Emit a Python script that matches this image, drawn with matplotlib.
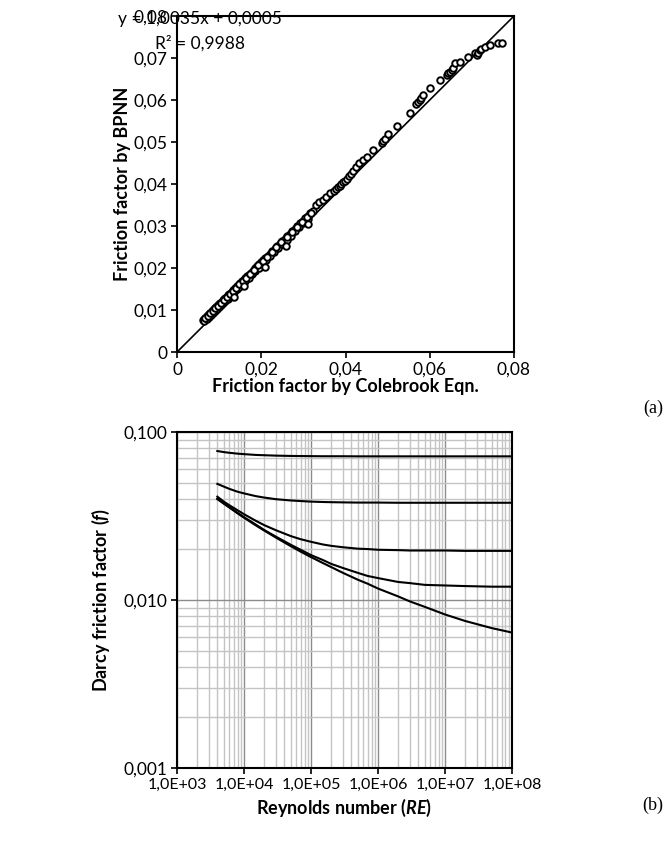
#!/usr/bin/env python3
import matplotlib
matplotlib.use("Agg")
import matplotlib.pyplot as plt

plt.rcParams['font.family'] = ['Lato', 'DejaVu Sans']
plt.rcParams['mathtext.fontset'] = 'custom'
plt.rcParams['mathtext.rm'] = 'Lato'
plt.rcParams['mathtext.bfit'] = 'Lato:italic:bold'

# (a) friction factor: Colebrook vs BPNN
colebrook = [0.0062, 0.0064, 0.0066, 0.0068, 0.0070, 0.0072, 0.0074, 0.0076, 0.0078, 0.0080,
             0.0082, 0.0084, 0.0086, 0.0088, 0.0090, 0.0092, 0.0094, 0.0096, 0.0098, 0.0100,
             0.0103, 0.0106, 0.0109, 0.0112, 0.0115, 0.0118, 0.0121, 0.0124, 0.0127, 0.0130,
             0.0134, 0.0138, 0.0142, 0.0146, 0.0150, 0.0154, 0.0158, 0.0162, 0.0166, 0.0170,
             0.0175, 0.0180, 0.0185, 0.0190, 0.0195, 0.0200, 0.0205, 0.0210, 0.0215, 0.0220,
             0.0226, 0.0232, 0.0238, 0.0244, 0.0250, 0.0256, 0.0262, 0.0268, 0.0274, 0.0280,
             0.0286, 0.0292, 0.0298, 0.0304, 0.0310, 0.0316, 0.0322,
             0.0065, 0.0070, 0.0075, 0.0080, 0.0085, 0.0090, 0.0095, 0.0100, 0.0105, 0.0110,
             0.0115, 0.0120, 0.0125, 0.0130, 0.0136, 0.0142, 0.0148, 0.0155, 0.0162, 0.0170,
             0.0178, 0.0186, 0.0194, 0.0203, 0.0212, 0.0221, 0.0230, 0.0240, 0.0250, 0.0260,
             0.0270, 0.0280, 0.0290, 0.0300, 0.0310,
             0.0067, 0.0073, 0.0079, 0.0085, 0.0091, 0.0097, 0.0104, 0.0111, 0.0118, 0.0126,
             0.0133, 0.0140, 0.0148, 0.0156, 0.0164, 0.0173, 0.0183, 0.0193, 0.0203, 0.0214,
             0.0225, 0.0236, 0.0248, 0.0260, 0.0272, 0.0284, 0.0296, 0.0308, 0.0318,
             0.0135, 0.0160, 0.0209, 0.0258, 0.0310,
             0.0330, 0.0338, 0.0346, 0.0354, 0.0362,
             0.0372, 0.0378, 0.0382, 0.0386, 0.0390, 0.0394, 0.0398, 0.0403, 0.0408, 0.0413, 0.0418,
             0.0425, 0.0433, 0.0441, 0.0450,
             0.0465, 0.0486, 0.0490, 0.0494, 0.0500, 0.0522, 0.0553,
             0.0568, 0.0572, 0.0576, 0.0580, 0.0584, 0.0600, 0.0624,
             0.0640, 0.0644, 0.0648, 0.0652, 0.0656, 0.0660, 0.0671, 0.0690, 0.0707,
             0.0712, 0.0715, 0.0719, 0.0722, 0.0731, 0.0743, 0.0762, 0.0771]
bpnn = [0.0076, 0.0078, 0.0080, 0.0082, 0.0084, 0.0086, 0.0088, 0.0090, 0.0092, 0.0094,
        0.0096, 0.0098, 0.0100, 0.0102, 0.0104, 0.0106, 0.0108, 0.0110, 0.0112, 0.0114,
        0.0117, 0.0120, 0.0123, 0.0126, 0.0129, 0.0132, 0.0135, 0.0138, 0.0141, 0.0144,
        0.0148, 0.0152, 0.0156, 0.0160, 0.0164, 0.0168, 0.0172, 0.0176, 0.0180, 0.0184,
        0.0189, 0.0194, 0.0199, 0.0204, 0.0209, 0.0214, 0.0219, 0.0224, 0.0229, 0.0234,
        0.0240, 0.0246, 0.0252, 0.0258, 0.0264, 0.0270, 0.0276, 0.0282, 0.0288, 0.0294,
        0.0300, 0.0306, 0.0312, 0.0318, 0.0324, 0.0330, 0.0336,
        0.0073, 0.0078, 0.0083, 0.0088, 0.0093, 0.0098, 0.0103, 0.0108, 0.0112, 0.0117,
        0.0122, 0.0127, 0.0132, 0.0137, 0.0143, 0.0149, 0.0155, 0.0162, 0.0169, 0.0177,
        0.0185, 0.0193, 0.0201, 0.0210, 0.0219, 0.0228, 0.0237, 0.0247, 0.0257, 0.0267,
        0.0277, 0.0287, 0.0297, 0.0307, 0.0317,
        0.0080, 0.0086, 0.0092, 0.0098, 0.0104, 0.0110, 0.0117, 0.0124, 0.0131, 0.0139,
        0.0146, 0.0153, 0.0161, 0.0169, 0.0177, 0.0186, 0.0196, 0.0206, 0.0216, 0.0227,
        0.0238, 0.0249, 0.0261, 0.0273, 0.0285, 0.0297, 0.0309, 0.0321, 0.0331,
        0.0131, 0.0158, 0.0202, 0.0253, 0.0305,
        0.0350, 0.0356, 0.0362, 0.0370, 0.0378,
        0.0384, 0.0389, 0.0392, 0.0396, 0.0400, 0.0404, 0.0408, 0.0413, 0.0418, 0.0424, 0.0432,
        0.0440, 0.0449, 0.0457, 0.0465,
        0.0480, 0.0498, 0.0502, 0.0506, 0.0520, 0.0538, 0.0569,
        0.0590, 0.0595, 0.0600, 0.0605, 0.0612, 0.0629, 0.0648,
        0.0660, 0.0664, 0.0667, 0.0671, 0.0675, 0.0688, 0.0690, 0.0702, 0.0712,
        0.0708, 0.0712, 0.0719, 0.0721, 0.0726, 0.0731, 0.0736, 0.0736]
tick_a = [0, 0.01, 0.02, 0.03, 0.04, 0.05, 0.06, 0.07, 0.08]

# (b) Darcy friction factor vs Reynolds number, one curve per relative roughness
re = [4e3, 5e3, 6e3, 8e3, 1e4, 1.5e4, 2e4, 3e4, 5e4, 7e4, 1e5, 1.5e5, 2e5, 3e5, 5e5, 7e5,
      1e6, 2e6, 3e6, 5e6, 1e7, 2e7, 5e7, 1e8]
f_005 = [0.0770, 0.0759, 0.0752, 0.0743, 0.0738, 0.0730, 0.0727, 0.0723, 0.0720, 0.0719, 0.0718, 0.0717,
         0.0717, 0.0717, 0.0716, 0.0716, 0.0716, 0.0716, 0.0716, 0.0716, 0.0716, 0.0716, 0.0716, 0.0716]
f_001 = [0.0491, 0.0473, 0.0459, 0.0441, 0.0431, 0.0415, 0.0407, 0.0398, 0.0391, 0.0388, 0.0385, 0.0383,
         0.0382, 0.0381, 0.0380, 0.0380, 0.0380, 0.0379, 0.0379, 0.0379, 0.0379, 0.0379, 0.0379, 0.0379]
f_1e3 = [0.0412, 0.0385, 0.0367, 0.0342, 0.0324, 0.0296, 0.0279, 0.0260, 0.0240, 0.0230, 0.0222, 0.0214,
         0.0210, 0.0206, 0.0202, 0.0201, 0.0199, 0.0198, 0.0197, 0.0197, 0.0197, 0.0196, 0.0196, 0.0196]
f_1e4 = [0.0400, 0.0376, 0.0357, 0.0330, 0.0311, 0.0281, 0.0261, 0.0238, 0.0213, 0.0199, 0.0185, 0.0173,
         0.0164, 0.0155, 0.0145, 0.0139, 0.0135, 0.0128, 0.0126, 0.0123, 0.0122, 0.0121, 0.0120, 0.0120]
f_1e6 = [0.0399, 0.0374, 0.0356, 0.0328, 0.0309, 0.0278, 0.0259, 0.0235, 0.0209, 0.0194, 0.0180, 0.0166,
         0.0157, 0.0145, 0.0132, 0.0125, 0.0117, 0.0105, 0.0098, 0.0091, 0.0082, 0.0075, 0.0068, 0.0064]
re_ticks = [1e3, 1e4, 1e5, 1e6, 1e7, 1e8]
re_labels = ["1,0E+03", "1,0E+04", "1,0E+05", "1,0E+06", "1,0E+07", "1,0E+08"]
f_ticks = [0.001, 0.01, 0.1]
f_labels = ["0,001", "0,010", "0,100"]

fig = plt.figure(figsize=(6.67, 8.46), dpi=100)

# ---- (a)
ax1 = fig.add_axes([0.2654, 0.5839, 0.5052, 0.3972])
ax1.plot([0, 0.08], [0, 0.08], color="black", lw=1.2)
ax1.scatter(colebrook, bpnn, s=22, facecolors="white", edgecolors="black", linewidths=1.4, zorder=3)
ax1.set_xlim(0, 0.08)
ax1.set_ylim(0, 0.08)
ax1.set_xticks(tick_a[::2])
ax1.set_yticks(tick_a)
ax1.set_xticklabels(["0" if t == 0 else f"{t:.2f}".replace(".", ",") for t in tick_a[::2]])
ax1.set_yticklabels(["0" if t == 0 else f"{t:.2f}".replace(".", ",") for t in tick_a])
for s in ax1.spines.values():
    s.set_linewidth(1.5)
ax1.tick_params(direction="out", length=4, width=1.2, labelsize=12.5, pad=3)
ax1.set_xlabel("Friction factor by Colebrook Eqn.", fontsize=13, fontweight="bold", labelpad=0)
ax1.set_ylabel("Friction factor by BPNN", fontsize=13, fontweight="bold", labelpad=2)
ax1.text(-0.0140, 0.0792, "y = 1,0035x + 0,0005", fontsize=12.5, va="center", ha="left", clip_on=False)
ax1.text(-0.0052, 0.0734, "R² = 0,9988", fontsize=12.5, va="center", ha="left", clip_on=False)
fig.text(0.995, 0.517, "(a)", fontsize=13, family="Liberation Serif", ha="right", va="center")

# ---- (b)
ax2 = fig.add_axes([0.2654, 0.0922, 0.5022, 0.3972])
for f in (f_005, f_001, f_1e3, f_1e4, f_1e6):
    ax2.plot(re, f, color="black", lw=1.5, zorder=3)
ax2.set_xscale("log")
ax2.set_yscale("log")
ax2.set_xlim(1e3, 1e8)
ax2.set_ylim(0.001, 0.1)
ax2.set_xticks(re_ticks)
ax2.set_xticklabels(re_labels)
ax2.set_yticks(f_ticks)
ax2.set_yticklabels(f_labels)
ax2.grid(which="major", color="#8c8c8c", lw=1.0)
ax2.grid(which="minor", color="#c4c4c4", lw=1.0)
ax2.tick_params(which="minor", length=0)
ax2.tick_params(which="major", direction="out", length=4, width=1.2, labelsize=11.5, pad=3)
ax2.tick_params(axis="y", labelsize=12.5)
for s in ax2.spines.values():
    s.set_linewidth(1.5)
ax2.set_xlabel(r"Reynolds number ($\mathbfit{RE}$)", fontsize=13, fontweight="bold", labelpad=4)
ax2.set_ylabel(r"Darcy friction factor ($\mathbfit{f}$)", fontsize=13, fontweight="bold", labelpad=8)
fig.text(0.995, 0.048, "(b)", fontsize=13, family="Liberation Serif", ha="right", va="center")

fig.savefig("out.png", dpi=100)
